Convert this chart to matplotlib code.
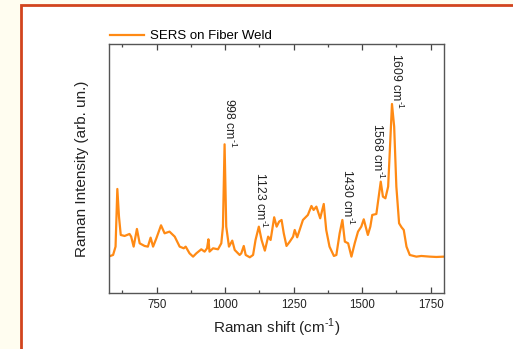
import numpy as np
import matplotlib
matplotlib.use('Agg')
from matplotlib import pyplot as plt
from matplotlib.patches import Rectangle

plt.rcParams['font.family'] = ['Liberation Sans', 'DejaVu Sans']
plt.rcParams['mathtext.fontset'] = 'custom'
plt.rcParams['mathtext.rm'] = 'Liberation Sans'

# spectrum (wavenumber, intensity in arb. units)
shift = [574, 591, 600, 606.5, 612.5, 619, 633, 651, 657, 666, 678, 688, 706, 718,
         728, 737, 749, 766, 779, 797, 816, 834, 849, 856, 870, 883, 895, 913, 925,
         934, 939, 943, 956, 974, 986, 992, 998, 1004, 1014, 1026, 1035, 1053, 1059,
         1068, 1075, 1090, 1102, 1111, 1123, 1133, 1145, 1157, 1166, 1179, 1188,
         1197, 1206, 1214, 1224, 1236, 1248, 1254, 1263, 1272, 1284, 1302, 1315,
         1323, 1333, 1347, 1360, 1369, 1381, 1397, 1406, 1418, 1428, 1437, 1449,
         1461, 1473, 1485, 1497, 1506, 1513, 1521, 1530, 1537, 1552, 1568, 1576,
         1585, 1595, 1603, 1609, 1617, 1625, 1635, 1644, 1652, 1662, 1674, 1698,
         1716, 1747, 1771, 1799]
intensity = [110, 115, 140, 313, 230, 175, 172, 178, 170, 140, 193, 150, 142, 140,
             167, 140, 165, 204, 180, 185, 170, 140, 135, 140, 120, 110, 120, 132, 125,
             135, 162, 125, 135, 132, 150, 200, 447, 200, 140, 158, 130, 115, 120,
             142, 115, 108, 115, 160, 200, 160, 128, 170, 160, 228, 200,
             215, 220, 180, 142, 155, 170, 190, 168, 190, 220, 235, 262,
             250, 260, 225, 268, 190, 140, 112, 115, 180, 220, 155, 150,
             110, 150, 185, 200, 222, 200, 175, 200, 235, 238, 335, 290,
             285, 320, 460, 568, 500, 320, 210, 198, 190, 140, 115, 110,
             112, 110, 109, 110]

# peak labels: text, x, top of text
peak_labels = ['998', '1123', '1430', '1568', '1609']
label_x = [1017, 1130, 1448, 1558, 1625]
label_top = [585, 363, 372, 510, 720]

sup = r'$^{\mathrm{\text{-}1}}$'

fig = plt.figure(figsize=(5.13, 3.49), dpi=100)

# page background and orange-red frame
fig.patches.append(Rectangle((0, 0), 1, 1, transform=fig.transFigure,
                             facecolor='#fffdf0', edgecolor='none', zorder=-3))
fig.patches.append(Rectangle((20.5 / 513, -0.1), 1.2, 1.1 - 4.5 / 349,
                             transform=fig.transFigure, facecolor='white',
                             edgecolor='#d2441e', linewidth=2, zorder=-2))

ax = fig.add_axes([108.7 / 513, 1 - 293.3 / 349, 335.6 / 513, 249 / 349])
ax.plot(shift, intensity, color='#ff8a14', lw=1.6, label='SERS on Fiber Weld',
        solid_joinstyle='round')

for t, x, y in zip(peak_labels, label_x, label_top):
    ax.text(x, y, t + ' cm' + sup, rotation=-90, ha='center', va='top',
            fontsize=8.8, color='#222222')

ax.set_xlim(575, 1800)
ax.set_ylim(0, 747)
ax.set_xticks([750, 1000, 1250, 1500, 1750])
ax.set_xticks([625, 875, 1125, 1375, 1625], minor=True)
ax.set_yticks([])
ax.tick_params(axis='x', which='both', direction='in', top=True, labelsize=8.3,
               colors='#444444', labelcolor='#222222', pad=4)
ax.tick_params(axis='x', which='major', length=4, width=0.9)
ax.tick_params(axis='x', which='minor', length=2.5, width=0.9)
for s in ax.spines.values():
    s.set_color('#555555')
    s.set_linewidth(1.0)

ax.set_xlabel('Raman shift (cm' + sup + ')', fontsize=11, color='#222222', labelpad=4)
ax.set_ylabel('Raman Intensity (arb. un.)', fontsize=11, color='#222222', labelpad=14)

ax.legend(loc='lower left', bbox_to_anchor=(0.0, 1.003), frameon=False, fontsize=9.5,
          handlelength=2.6, handletextpad=0.4, borderaxespad=0, borderpad=0.1)

fig.savefig('out.png', dpi=100)
